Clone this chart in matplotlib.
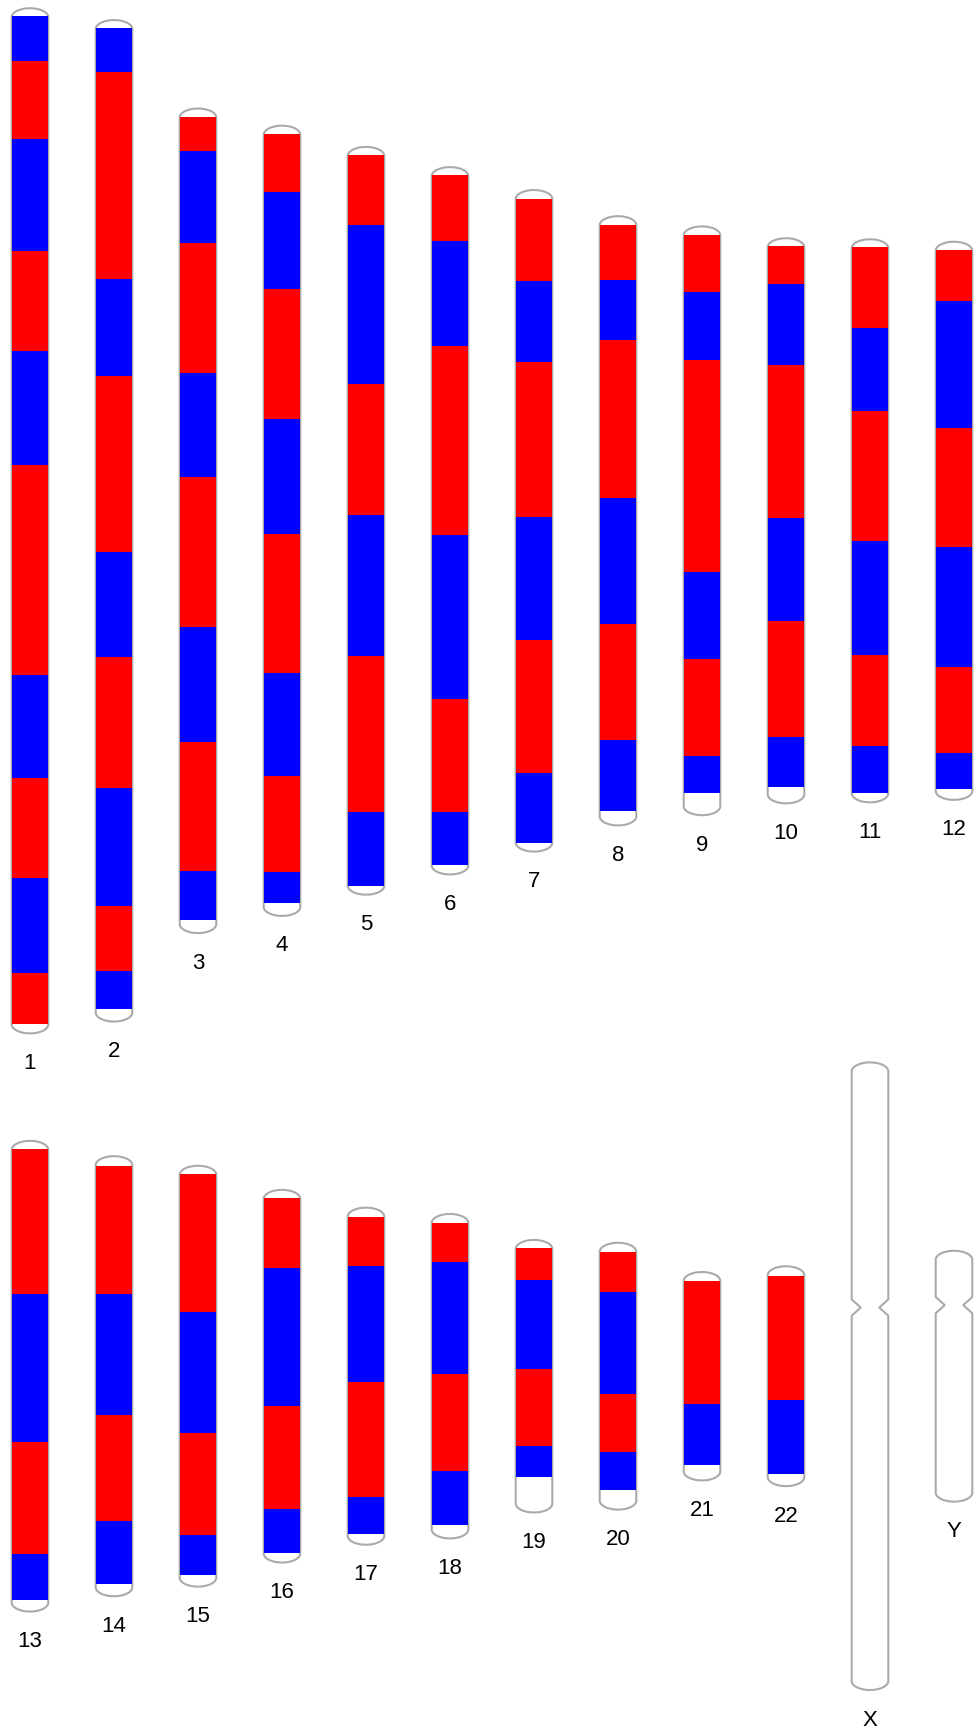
import numpy as np
import matplotlib.pyplot as plt
from matplotlib.patches import Polygon, Rectangle

# chromosome names and drawn lengths (Mb)
chroms = ['1', '2', '3', '4', '5', '6', '7', '8', '9', '10', '11', '12',
          '13', '14', '15', '16', '17', '18', '19', '20', '21', '22', 'X', 'Y']
chrom_len = [250.9, 245.1, 201.8, 193.4, 183.0, 173.1, 161.9, 149.1, 144.1, 138.3, 137.8, 136.6,
             115.2, 107.7, 103.0, 91.2, 82.5, 79.4, 66.7, 65.3, 51.0, 53.8, 153.6, 61.4]

# segment breakpoints (Mb from the p-end); states alternate starting with first_state
seg_breaks = [
    [2.0, 13.0, 32.1, 59.5, 84.0, 111.9, 163.1, 188.3, 212.8, 236.1, 248.5],
    [2.0, 12.8, 63.4, 87.1, 130.2, 156.0, 188.0, 216.9, 232.8, 242.1],
    [2.0, 10.3, 32.8, 64.7, 90.1, 126.9, 155.0, 186.5, 198.6],
    [2.0, 16.2, 39.9, 71.7, 99.9, 133.9, 159.1, 182.7, 190.3],
    [1.9, 19.0, 57.9, 90.1, 124.5, 162.8, 180.9],
    [1.8, 18.1, 43.7, 90.0, 130.1, 157.8, 170.9],
    [2.1, 22.2, 42.2, 79.9, 110.2, 142.7, 159.7],
    [2.2, 15.5, 30.2, 69.0, 99.9, 128.3, 145.6],
    [2.1, 16.1, 32.8, 84.6, 105.9, 129.5, 138.7],
    [2.0, 11.1, 30.9, 68.4, 93.7, 122.1, 134.4],
    [1.9, 21.8, 42.1, 73.9, 101.8, 124.1, 135.4],
    [2.0, 14.4, 45.5, 74.7, 104.1, 125.1, 134.0],
    [2.1, 37.4, 73.8, 101.0, 112.3],
    [2.3, 33.7, 63.4, 89.3, 104.8],
    [2.1, 35.9, 65.3, 90.4, 100.1],
    [2.0, 19.1, 52.9, 78.0, 88.9],
    [2.2, 14.2, 42.7, 70.8, 79.9],
    [2.1, 11.7, 39.2, 62.8, 76.0],
    [2.0, 9.8, 31.6, 50.4, 58.1],
    [2.2, 12.0, 37.0, 51.2, 60.4],
    [2.3, 32.2, 47.2],
    [2.3, 32.8, 50.9],
    [],
    [],
]
first_state = ['B', 'B', 'R', 'R', 'R', 'R', 'R', 'R', 'R', 'R', 'R', 'R',
               'R', 'R', 'R', 'R', 'R', 'R', 'R', 'R', 'R', 'R', None, None]

# centromere notches only show on the empty outlines
centromere = {'X': 60.0, 'Y': 13.3}

state_colors = {'R': '#ff0000', 'B': '#0000ff'}
outline_color = '#aaaaaa'

W, H, DPI = 976, 1734, 100
px_per_mb = 4.086
col_px = 84.0
first_col_px = 30.0
row_center_px = [520.8, 1376.2]
per_row = 12

half_w = 18.3 / col_px      # half body width, column units
cap_h = 2.2                 # cap height, Mb
notch_d = 9.0 / col_px
notch_h = 2.0


def outline(xc, top, length, cen=None):
    bottom = top + length
    xl, xr = xc - half_w, xc + half_w
    pts = []
    for t in np.linspace(np.pi, 0, 30):
        pts.append((xc + half_w * np.cos(t), top + cap_h - cap_h * np.sin(t)))
    if cen is not None:
        c = top + cen
        pts += [(xr, c - notch_h), (xr - notch_d, c), (xr, c + notch_h)]
    for t in np.linspace(0, -np.pi, 30):
        pts.append((xc + half_w * np.cos(t), bottom - cap_h - cap_h * np.sin(t)))
    if cen is not None:
        c = top + cen
        pts += [(xl, c + notch_h), (xl + notch_d, c), (xl, c - notch_h)]
    return pts


fig = plt.figure(figsize=(W / DPI, H / DPI), dpi=DPI)
ax = fig.add_axes([0, 0, 1, 1])
ax.set_xlim(-first_col_px / col_px, (W - first_col_px) / col_px)
ax.set_ylim(H / px_per_mb, 0)
ax.axis('off')

for i, name in enumerate(chroms):
    row, col = divmod(i, per_row)
    L = chrom_len[i]
    top = row_center_px[row] / px_per_mb - L / 2
    shape = Polygon(outline(col, top, L, centromere.get(name)), closed=True,
                    facecolor='white', edgecolor=outline_color, lw=1.5,
                    joinstyle='round', zorder=1)
    ax.add_patch(shape)

    b = seg_breaks[i]
    if b:
        state = first_state[i]
        for s, e in zip(b[:-1], b[1:]):
            ax.add_patch(Rectangle((col - half_w, top + s), 2 * half_w, e - s,
                                   facecolor=state_colors[state], lw=0, zorder=2))
            state = 'B' if state == 'R' else 'R'

    ax.text(col, top + L + 30 / px_per_mb, name, ha='center', va='center',
            fontsize=16, family=['Liberation Sans', 'DejaVu Sans'], color='black')

fig.savefig('out.png', dpi=DPI, facecolor='white')
